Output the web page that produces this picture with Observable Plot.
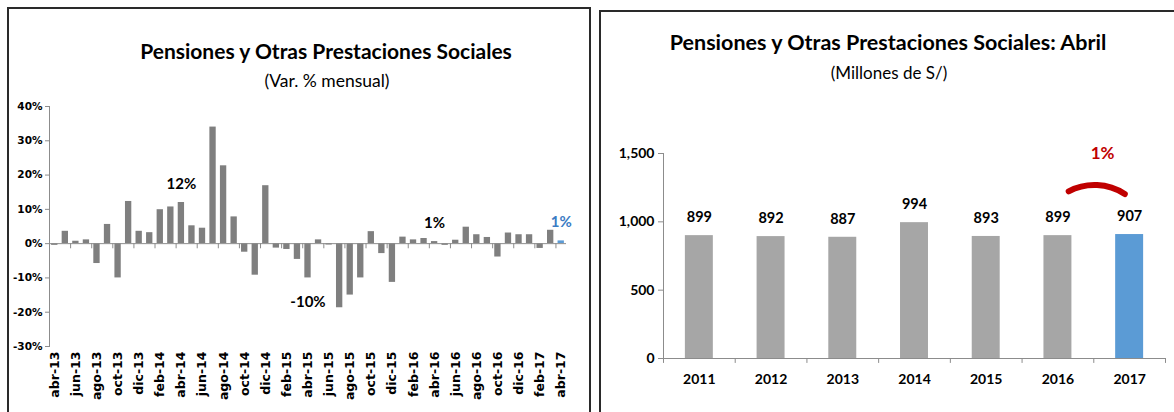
<!DOCTYPE html>
<html>
<head>
<meta charset="utf-8">
<script src="https://cdn.jsdelivr.net/npm/d3@7"></script>
<script src="https://cdn.jsdelivr.net/npm/@observablehq/plot@0.6"></script>
<style>
  html, body { margin: 0; padding: 0; background: #fff; }
  #root { position: relative; width: 1174px; height: 412px; overflow: hidden; background: #fff; font-family: Lato, "Open Sans", sans-serif; }
  .panel { position: absolute; box-sizing: border-box; }
  #p1 { left: 7px; top: 7px; width: 584px; height: 430px; border: 2px solid #2a2a2a; border-bottom: none; }
  #p2 { left: 599px; top: 10px; width: 600px; height: 430px; border: 2px solid #2a2a2a; border-bottom: none; border-right: none; }
  .title { position: absolute; font-weight: bold; color: #000; white-space: nowrap; transform: translate(-50%, -50%); }
  .sub { position: absolute; color: #000; white-space: nowrap; transform: translate(-50%, -50%); }
  #c1 { position: absolute; left: 0; top: 90px; }
  #c2 { position: absolute; left: 600px; top: 130px; }
</style>
</head>
<body>
<div id="root">
  <div class="panel" id="p1"></div>
  <div class="panel" id="p2"></div>
  <div class="title" style="left:326px; top:50px; font-size:21px;">Pensiones y Otras Prestaciones Sociales</div>
  <div class="sub" style="left:327px; top:80px; font-size:17.5px;">(Var. % mensual)</div>
  <div class="title" style="left:888px; top:42px; font-size:21.5px;">Pensiones y Otras Prestaciones Sociales: Abril</div>
  <div class="sub" style="left:889px; top:72px; font-size:17px;">(Millones de S/)</div>
  <div id="c1"></div>
  <div id="c2"></div>
</div>
<script>
// ---------- Left chart data: monthly % variation ----------
const months = ["abr-13","may-13","jun-13","jul-13","ago-13","sep-13","oct-13","nov-13","dic-13","ene-14","feb-14","mar-14","abr-14","may-14","jun-14","jul-14","ago-14","sep-14","oct-14","nov-14","dic-14","ene-15","feb-15","mar-15","abr-15","may-15","jun-15","jul-15","ago-15","sep-15","oct-15","nov-15","dic-15","ene-16","feb-16","mar-16","abr-16","may-16","jun-16","jul-16","ago-16","sep-16","oct-16","nov-16","dic-16","ene-17","feb-17","mar-17","abr-17"];
const varPct = [-0.5,3.6,0.7,1.1,-5.8,5.6,-10.0,12.3,3.6,3.2,9.9,10.7,12.0,5.2,4.5,34.0,22.7,7.8,-2.5,-9.2,16.9,-1.3,-1.7,-4.6,-10.0,1.1,-0.4,-18.7,-15.0,-10.0,3.5,-2.9,-11.3,1.9,1.1,1.5,0.6,-0.5,1.0,4.8,2.6,1.8,-3.9,3.1,2.6,2.6,-1.4,3.9,0.8];
const pctTicks = [-30,-20,-10,0,10,20,30,40];
const labeledMonths = ["abr-14","abr-15","abr-16","abr-17"];
const labeledTexts = ["12%","-10%","1%","1%"];

// ---------- Right chart data: April amounts ----------
const years = ["2011","2012","2013","2014","2015","2016","2017"];
const amounts = [899,892,887,994,893,899,907];
const amountTicks = [0,500,1000,1500];
const growthText = "1%";

// ---------- Left chart ----------
const monthly = months.map((m, i) => ({month: m, v: varPct[i], last: i === months.length - 1}));
const monthLabels = labeledMonths.map((m, i) => {
  const d = monthly.find(r => r.month === m);
  return {month: m, v: d.v, text: labeledTexts[i], last: d.last};
});
const W1 = 590, H1 = 322, ML1 = 49, MR1 = 24;
const step1 = (W1 - ML1 - MR1) / months.length;
const grey = "#8c8c8c";
const pad1 = 0.4;

const left = Plot.plot({
  width: W1, height: H1,
  marginTop: 16, marginBottom: 66, marginLeft: ML1, marginRight: MR1,
  style: {background: "transparent", overflow: "visible", color: "#000"},
  x: {domain: months, paddingInner: pad1, paddingOuter: pad1 / 2, round: false, label: null, axis: null},
  y: {domain: [-30, 40], label: null, axis: null},
  marks: [
    Plot.frame({anchor: "left", stroke: grey}),
    Plot.axisY({ticks: pctTicks, tickFormat: d => d + "%", tickSize: 4, tickPadding: 3, stroke: grey, fill: "#000",
      fontFamily: "DejaVu Sans", fontWeight: "bold", fontSize: 10.5, label: null}),
    Plot.barY(monthly, {x: "month", y: "v", fill: d => d.last ? "#5b9bd5" : "#7f7f7f"}),
    Plot.ruleY([0], {stroke: grey}),
    Plot.ruleX(months.filter((d, i) => i % 2 === 1), {x: d => d, y1: 0, y2: -1.5, dx: step1 / 2, stroke: grey}),
    Plot.axisX({ticks: months.filter((d, i) => i % 2 === 0), tickRotate: -90, tickSize: 0, tickPadding: 5,
      fontFamily: "DejaVu Sans", fontWeight: "bold", fontSize: 12.5, fill: "#000", label: null}),
    Plot.text(monthLabels.filter(d => d.v >= 0), {x: "month", y: "v", text: "text", dy: -18.5,
      fill: d => d.last ? "#3b7cc4" : "#000", fontFamily: "Lato", fontWeight: "bold", fontSize: 15}),
    Plot.text(monthLabels.filter(d => d.v < 0), {x: "month", y: "v", text: "text", dy: 24,
      fill: "#000", fontFamily: "Lato", fontWeight: "bold", fontSize: 15})
  ]
});
document.getElementById("c1").appendChild(left);

// ---------- Right chart ----------
const annual = years.map((y, i) => ({year: y, v: amounts[i], last: i === years.length - 1}));
const W2 = 574, H2 = 282, ML2 = 63, MR2 = 9;
const step2 = (W2 - ML2 - MR2) / years.length;
const prev = annual[annual.length - 2], curr = annual[annual.length - 1];
const pad2 = 0.61;

const right = Plot.plot({
  width: W2, height: H2,
  marginTop: 23, marginBottom: 54, marginLeft: ML2, marginRight: MR2,
  style: {background: "transparent", overflow: "visible", color: "#000"},
  x: {domain: years, paddingInner: pad2, paddingOuter: pad2 / 2, round: false, label: null, axis: null},
  y: {domain: [0, 1500], label: null, axis: null},
  marks: [
    Plot.frame({anchor: "left", stroke: grey}),
    Plot.axisY({ticks: amountTicks, tickFormat: d3.format(","), tickSize: 5, tickPadding: 4, stroke: grey, fill: "#000",
      fontFamily: "Lato", fontWeight: "bold", fontSize: 14, label: null}),
    Plot.barY(annual, {x: "year", y: "v", fill: d => d.last ? "#5b9bd5" : "#a6a6a6"}),
    Plot.ruleY([0], {stroke: grey}),
    Plot.ruleX(years, {x: d => d, y1: 0, y2: -36, dx: -step2 / 2, stroke: grey}),
    Plot.ruleX(years.slice(-1), {x: d => d, y1: 0, y2: -36, dx: step2 / 2, stroke: grey}),
    Plot.text(annual, {x: "year", y: "v", text: d => d3.format(",")(d.v), dy: -18,
      fontFamily: "Lato", fontWeight: "bold", fontSize: 14.5, fill: "#000"}),
    Plot.axisX({tickSize: 0, tickPadding: 16, fontFamily: "Lato", fontWeight: "bold", fontSize: 14, fill: "#000", label: null}),
    Plot.arrow([{a: prev, b: curr}], {x1: d => d.a.year, y1: d => d.a.v, x2: d => d.b.year, y2: d => d.b.v,
      dy: -37, bend: 40, headLength: 0, insetStart: 13, insetEnd: 6, stroke: "#c00000", strokeWidth: 6}),
    Plot.text([curr], {x: "year", y: "v", text: () => growthText, dx: -27, dy: -81,
      fill: "#c00000", fontFamily: "Lato", fontWeight: "bold", fontSize: 17})
  ]
});
document.getElementById("c2").appendChild(right);
</script>
</body>
</html>
